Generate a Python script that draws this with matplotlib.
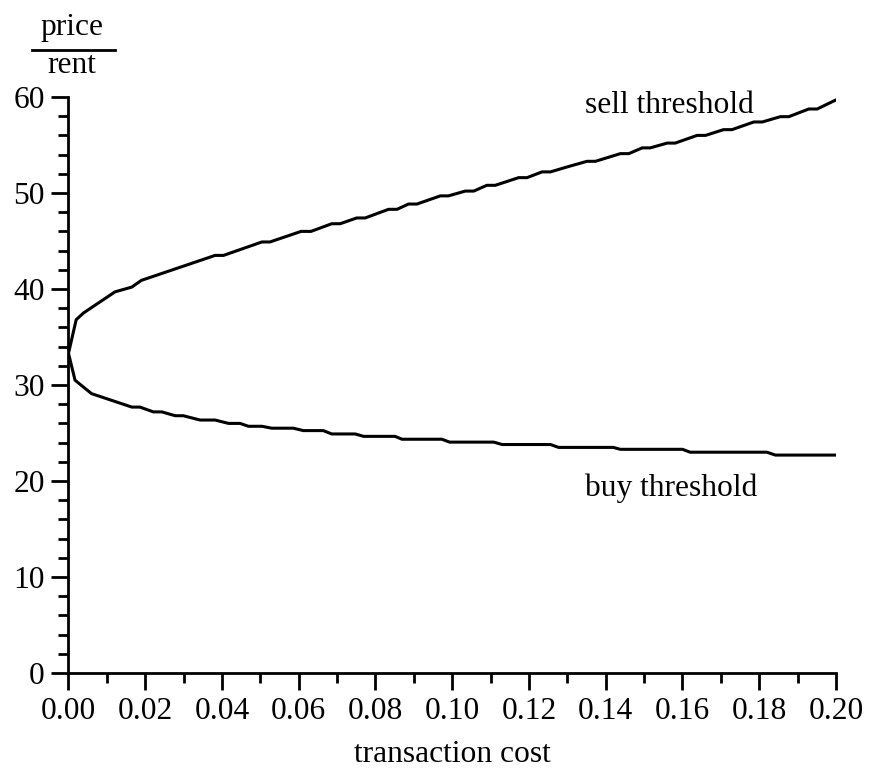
import matplotlib
matplotlib.use("Agg")
import matplotlib.pyplot as plt
from matplotlib.lines import Line2D
from matplotlib.ticker import MultipleLocator

plt.rcParams['font.family'] = ['Liberation Serif', 'DejaVu Serif']

# Data
sell_x = [0.0, 0.002, 0.0039, 0.0121, 0.0165, 0.019, 0.0382, 0.0404, 0.0504, 0.0525,
          0.0606, 0.0632, 0.0686, 0.0708, 0.0751, 0.0773, 0.0834, 0.0856, 0.0886, 0.0908,
          0.0969, 0.099, 0.1034, 0.1056, 0.109, 0.1112, 0.1173, 0.1195, 0.1234, 0.1256,
          0.1298, 0.1351, 0.1373, 0.1438, 0.146, 0.1495, 0.1516, 0.156, 0.1581, 0.1638,
          0.166, 0.1707, 0.1729, 0.1786, 0.1808, 0.1855, 0.1877, 0.1929, 0.1951, 0.2]
sell_y = [33.3, 36.8, 37.5, 39.7, 40.2, 40.9, 43.5, 43.5, 44.9, 44.9,
          46.0, 46.0, 46.8, 46.8, 47.4, 47.4, 48.3, 48.3, 48.85, 48.85,
          49.7, 49.7, 50.2, 50.2, 50.8, 50.8, 51.6, 51.6, 52.2, 52.2,
          52.7, 53.3, 53.3, 54.1, 54.1, 54.7, 54.7, 55.2, 55.2, 56.0,
          56.0, 56.6, 56.6, 57.4, 57.4, 57.95, 57.95, 58.75, 58.75, 59.7]

buy_x = [0.0, 0.0017, 0.006, 0.0165, 0.0186, 0.0221, 0.0243, 0.0278, 0.0299, 0.0343,
         0.0382, 0.0417, 0.0447, 0.0469, 0.0504, 0.053, 0.0586, 0.0612, 0.0664, 0.0686,
         0.0747, 0.0769, 0.0851, 0.0869, 0.0973, 0.0993, 0.1108, 0.113, 0.1256, 0.1277,
         0.1403, 0.142, 0.1438, 0.16, 0.162, 0.182, 0.1842, 0.2]
buy_y = [33.3, 30.5, 29.1, 27.7, 27.7, 27.2, 27.2, 26.8, 26.8, 26.35,
         26.35, 26.0, 26.0, 25.7, 25.7, 25.5, 25.5, 25.25, 25.25, 24.9,
         24.9, 24.65, 24.65, 24.35, 24.35, 24.05, 24.05, 23.8, 23.8, 23.5,
         23.5, 23.5, 23.3, 23.3, 23.0, 23.0, 22.7, 22.7]

x_ticks = [0.00, 0.02, 0.04, 0.06, 0.08, 0.10, 0.12, 0.14, 0.16, 0.18, 0.20]
y_ticks = [0, 10, 20, 30, 40, 50, 60]

FS = 22.7
fig = plt.figure(figsize=(8.7, 7.74), dpi=100)
W, H = 870, 774
ax = fig.add_axes([68.5 / W, 1 - 673 / H, (836 - 68.5) / W, (673 - 97) / H])

ax.plot(sell_x, sell_y, color='black', lw=2.2, solid_joinstyle='round')
ax.plot(buy_x, buy_y, color='black', lw=2.2, solid_joinstyle='round')

ax.set_xlim(0, 0.2)
ax.set_ylim(0, 60)
ax.set_xticks(x_ticks)
ax.set_xticklabels([f"{v:.2f}" for v in x_ticks])
ax.set_yticks(y_ticks)
ax.xaxis.set_minor_locator(MultipleLocator(0.01))
ax.yaxis.set_minor_locator(MultipleLocator(2))

for s in ['top', 'right']:
    ax.spines[s].set_visible(False)
for s in ['left', 'bottom']:
    ax.spines[s].set_linewidth(2.0)

ax.tick_params(which='major', direction='out', length=12, width=2.0,
               labelsize=FS, pad=5)
ax.tick_params(which='minor', direction='out', length=7, width=2.0)

ax.set_xlabel('transaction cost', fontsize=FS, labelpad=10)

ax.text(0.1347, 58.3, 'sell threshold', fontsize=FS, ha='left', va='baseline')
ax.text(0.1347, 18.4, 'buy threshold', fontsize=FS, ha='left', va='baseline')

# price / rent fraction label
fig.text(72 / W, 1 - 35 / H, 'price', fontsize=FS, ha='center', va='baseline')
fig.text(72 / W, 1 - 73 / H, 'rent', fontsize=FS, ha='center', va='baseline')
fig.add_artist(Line2D([32 / W, 115 / W], [1 - 50 / H, 1 - 50 / H],
                      transform=fig.transFigure, color='black', lw=2.0))

fig.savefig('out.png', dpi=100, facecolor='white')
